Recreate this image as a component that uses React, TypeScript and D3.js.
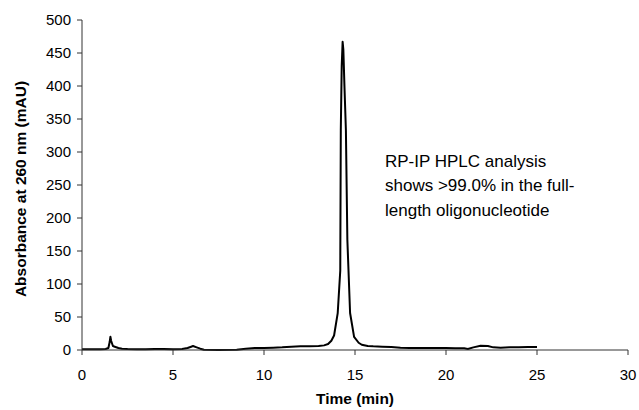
import React from "react";
import * as d3 from "d3";

const times = [0, 0.5, 1.0, 1.3, 1.45, 1.52, 1.56, 1.6, 1.7, 1.8, 2.0, 2.2, 2.5, 3.0, 3.5, 4.0, 4.5, 5.0, 5.5, 5.8, 6.0, 6.1, 6.3, 6.5, 6.7, 7.5, 8.5, 9.0, 9.5, 10.0, 10.5, 11.0, 11.5, 12.0, 12.5, 13.0, 13.3, 13.52, 13.7, 13.85, 14.05, 14.19, 14.22, 14.27, 14.32, 14.36, 14.42, 14.5, 14.58, 14.73, 14.95, 15.2, 15.37, 15.7, 16.0, 16.5, 17.0, 17.5, 18.0, 18.5, 19.0, 19.5, 20.0, 20.5, 21.0, 21.2, 21.5, 21.9, 22.3, 22.6, 23.0, 23.5, 24.0, 24.5, 25.0];
const absorbance = [1, 1, 1, 1.5, 3, 12, 20, 14, 6, 5, 3, 2, 1.5, 1, 1, 1.5, 1.5, 1, 1.5, 3, 5, 6, 4, 2, 0.5, 0, 0.5, 2, 3, 3, 3.5, 4, 5, 5.5, 5.5, 6, 7, 9, 14, 22, 56, 120, 333, 430, 467, 455, 400, 333, 167, 56, 20, 11, 8, 6, 5.5, 5, 4.5, 3.5, 3, 3, 3, 3, 3, 2.5, 2.5, 1.5, 4, 6.5, 6, 4, 3.5, 4, 4, 4.5, 4.5];

const xTicks = [0, 5, 10, 15, 20, 25, 30];
const yTicks = [0, 50, 100, 150, 200, 250, 300, 350, 400, 450, 500];
const annotation = ["RP-IP HPLC analysis", "shows >99.0% in the full-", "length oligonucleotide"];
const xTitle = "Time (min)";
const yTitle = "Absorbance at 260 nm (mAU)";

export default function App() {
  const W = 639, H = 410;
  const left = 82, right = 628, top = 20, bottom = 350;
  const x = d3.scaleLinear().domain([0, 30]).range([left, right]);
  const y = d3.scaleLinear().domain([0, 500]).range([bottom, top]);
  const data = times.map((t, i) => [t, absorbance[i]] as [number, number]);
  const line = d3.line<[number, number]>().x(d => x(d[0])).y(d => y(d[1]));
  const font = "Liberation Sans, Arial, sans-serif";
  return (
    <svg width={W} height={H} style={{ position: "absolute", left: 0, top: 0, background: "#fff" }} fontFamily={font}>
      <rect width={W} height={H} fill="#fff" />
      <path d={line(data) || ""} fill="none" stroke="#000" strokeWidth={2} strokeLinejoin="round" />
      <line x1={left} x2={left} y1={top} y2={bottom} stroke="#333" strokeWidth={1} />
      <line x1={left} x2={right} y1={bottom} y2={bottom} stroke="#333" strokeWidth={1} />
      {yTicks.map(v => (
        <g key={"y" + v}>
          <line x1={left - 5} x2={left} y1={y(v)} y2={y(v)} stroke="#333" />
          <text x={left - 11} y={y(v)} dy="0.35em" textAnchor="end" fontSize={15} fill="#000">{v}</text>
        </g>
      ))}
      {xTicks.map(v => (
        <g key={"x" + v}>
          <line x1={x(v)} x2={x(v)} y1={bottom} y2={bottom + 5} stroke="#333" />
          <text x={x(v)} y={bottom + 25} dy="0.35em" textAnchor="middle" fontSize={15} fill="#000">{v}</text>
        </g>
      ))}
      <text x={(left + right) / 2} y={399} dy="0.35em" textAnchor="middle" fontSize={15.5} fontWeight="bold">{xTitle}</text>
      <text transform={`translate(21,189) rotate(-90)`} dy="0.35em" textAnchor="middle" fontSize={15.5} fontWeight="bold">{yTitle}</text>
      {annotation.map((s, i) => (
        <text key={i} x={385} y={161 + i * 24.5} dy="0.35em" fontSize={17} fill="#000">{s}</text>
      ))}
    </svg>
  );
}
